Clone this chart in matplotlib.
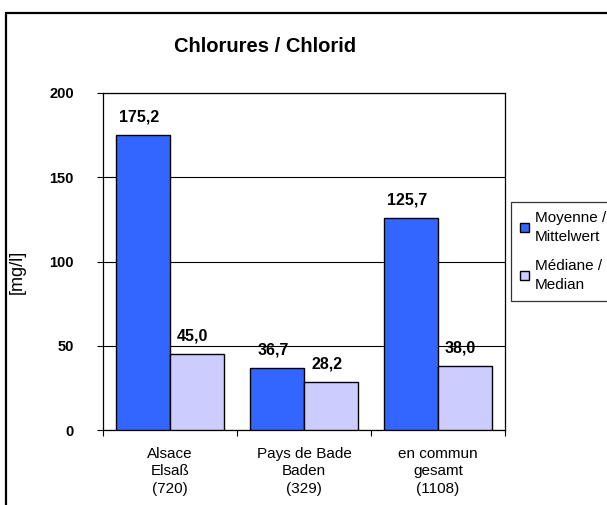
import matplotlib
matplotlib.use("Agg")
import matplotlib.pyplot as plt
import numpy as np
from matplotlib.patches import Patch, Rectangle

plt.rcParams["font.family"] = ["Liberation Sans", "DejaVu Sans"]

categories = ["Alsace\nElsaß\n(720)", "Pays de Bade\nBaden\n(329)", "en commun\ngesamt\n(1108)"]
moyenne = [175.2, 36.7, 125.7]
mediane = [45.0, 28.2, 38.0]
series_labels = ["Moyenne /\nMittelwert", "Médiane /\nMedian"]
colors = ["#3366FF", "#CCCCFF"]

W, H = 607, 505
fig = plt.figure(figsize=(W / 100, H / 100), dpi=100)
ax = fig.add_axes([103 / W, 1 - 430 / H, (505 - 103) / W, (430 - 93) / H])

# outer chart border (runs off the right/bottom edge like the original)
fig.patches.append(Rectangle((6 / W, -0.1), 1.2, 1 - 13 / H + 0.1,
                             transform=fig.transFigure, fill=False,
                             edgecolor="black", linewidth=1.6))

x = np.arange(len(categories))
width = 0.4
b1 = ax.bar(x - width / 2, moyenne, width, color=colors[0], edgecolor="black", linewidth=1.0, zorder=3)
b2 = ax.bar(x + width / 2, mediane, width, color=colors[1], edgecolor="black", linewidth=1.0, zorder=3)

for bars, vals in [(b1, moyenne), (b2, mediane)]:
    for rect, v in zip(bars, vals):
        ax.annotate(f"{v:.1f}".replace(".", ","),
                    (rect.get_x() + rect.get_width() / 2, rect.get_height()),
                    xytext=(-3, 13), textcoords="offset points",
                    ha="center", va="center", fontsize=11.5, fontweight="bold")

ax.set_xlim(-0.5, 2.5)
ax.set_ylim(0, 200)
ax.set_yticks([0, 50, 100, 150, 200])
ax.set_yticklabels(["0", "50", "100", "150", "200"], fontweight="bold", fontsize=10.5)
ax.tick_params(axis="y", direction="out", length=4, pad=17)
ax.yaxis.grid(True, color="black", linewidth=0.8, zorder=0)

# category boundaries as major ticks, labels on minor ticks
ax.set_xticks([-0.5, 0.5, 1.5, 2.5])
ax.set_xticklabels([])
ax.set_xticks(x, minor=True)
ax.set_xticklabels(categories, minor=True, fontsize=11, linespacing=1.32)
ax.tick_params(axis="x", which="major", direction="out", length=4)
ax.tick_params(axis="x", which="minor", length=0, pad=12)

for s in ax.spines.values():
    s.set_color("black")
    s.set_linewidth(0.9)

ax.set_ylabel("[mg/l]", fontsize=13)
ax.yaxis.set_label_coords((26 - 103) / 402, 0.47)

fig.text(265 / W, 1 - 47 / H, "Chlorures / Chlorid", ha="center", va="center",
         fontsize=14.5, fontweight="bold")

handles = [Patch(facecolor=c, edgecolor="black") for c in colors]
leg = fig.legend(handles, series_labels, loc="upper left",
                 bbox_to_anchor=(511 / W, 1 - 202 / H), frameon=True, fancybox=False,
                 edgecolor="black", fontsize=11, handlelength=0.55, handleheight=0.55,
                 handletextpad=0.4, borderpad=0.6, labelspacing=0.95, borderaxespad=0)
leg.get_frame().set_linewidth(0.9)
for t in leg.get_texts():
    t.set_linespacing(1.45)

fig.savefig("out.png", dpi=100)
